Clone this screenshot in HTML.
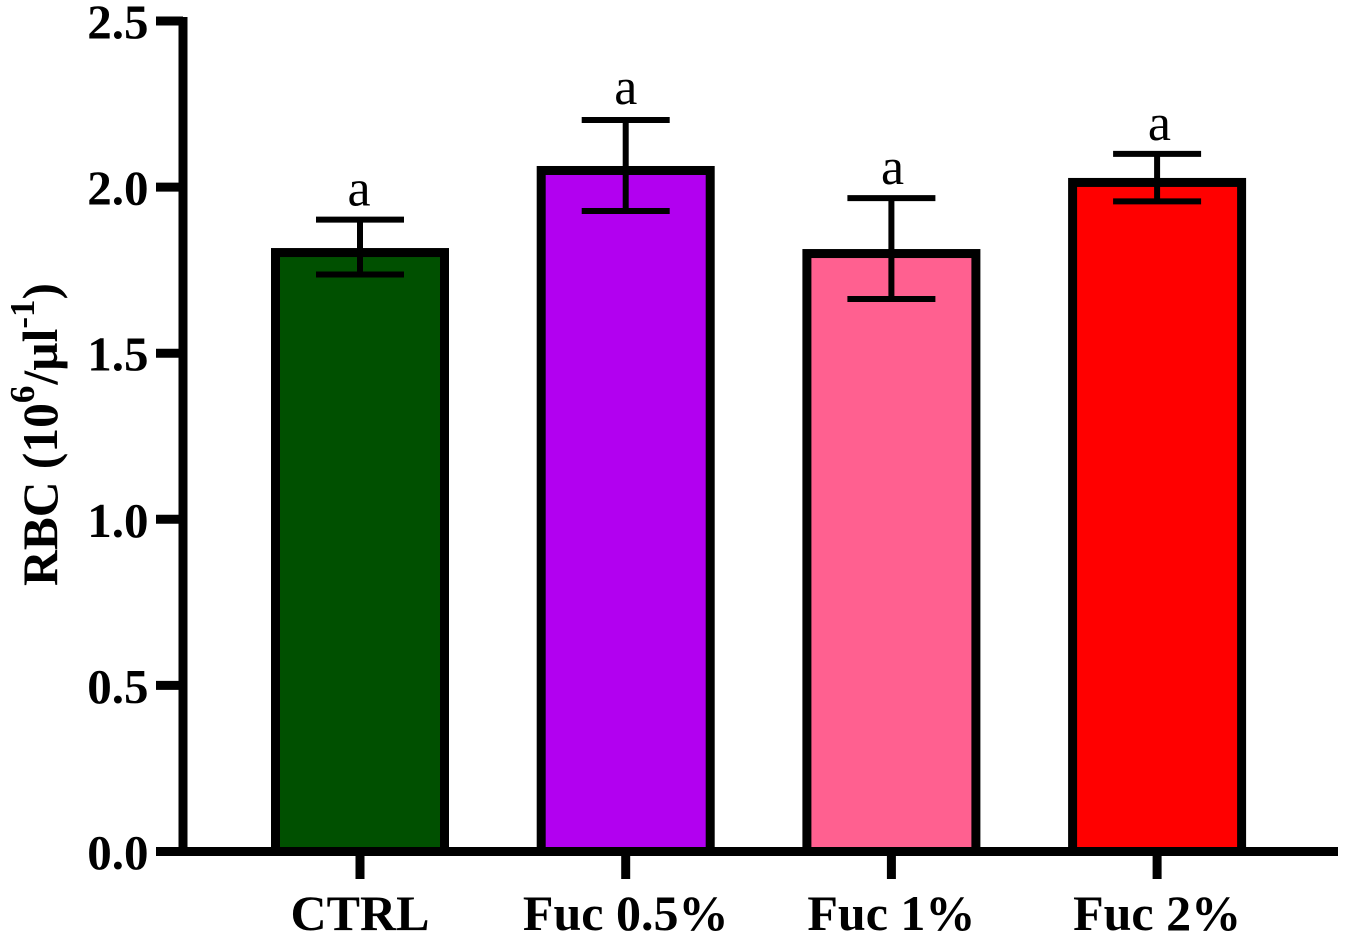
<!DOCTYPE html>
<html lang="en">
<head>
<meta charset="utf-8">
<title>RBC bar chart</title>
<style>
html,body{margin:0;padding:0;background:#fff;width:1348px;height:940px;overflow:hidden}
svg{display:block}
text{font-family:"Liberation Serif","Times New Roman",serif;fill:#000}
.b{font-weight:bold}
</style>
</head>
<body>
<svg id="chart" width="1348" height="940" viewBox="0 0 1348 940" xmlns="http://www.w3.org/2000/svg">
<rect width="1348" height="940" fill="#fff"/>
<g id="bars"></g>
<g id="errors"></g>
<g id="letters"></g>
<g id="axes"></g>
<text class="b" font-size="49.5" transform="translate(57 586) rotate(-90)">RBC (10<tspan font-size="35" dy="-23">6</tspan><tspan dx="1" dy="23">/µl</tspan><tspan font-size="35" dy="-23">-1</tspan><tspan dy="23">)</tspan></text>
</svg>
<script>
const categories = ["CTRL", "Fuc 0.5%", "Fuc 1%", "Fuc 2%"];
const means = [1.803, 2.05, 1.80, 2.014];
const errorUpper = [1.902, 2.202, 1.967, 2.10];
const errorLower = [1.737, 1.928, 1.663, 1.957];
const letters = ["a", "a", "a", "a"];
const barColors = ["#005000", "#b200f0", "#ff6090", "#ff0000"];
const yTicks = [0, 0.5, 1, 1.5, 2, 2.5];

const NS = "http://www.w3.org/2000/svg";
const yScale = v => 851.5 - v * 332.2;
const xScale = i => 360 + i * 265.7;

function make(tag, parent, attrs, txt) {
  const el = document.createElementNS(NS, tag);
  for (const k in attrs) el.setAttribute(k, attrs[k]);
  if (txt !== undefined) el.textContent = txt;
  parent.appendChild(el);
  return el;
}
const barsG = document.getElementById("bars");
const errG = document.getElementById("errors");
const letG = document.getElementById("letters");
const axG = document.getElementById("axes");

categories.forEach((c, i) => {
  const cx = xScale(i);
  const bar = make("rect", barsG, {x: cx - 84.5, y: yScale(means[i]), width: 169, height: yScale(0) - yScale(means[i]), fill: barColors[i], stroke: "#000", "stroke-width": 9});
  
  

  const stem = make("line", errG, {x1: cx, x2: cx, y1: yScale(errorUpper[i]), y2: yScale(errorLower[i]), stroke: "#000", "stroke-width": 6});
  
  
  const capU = make("line", errG, {x1: cx - 44, x2: cx + 44, y1: yScale(errorUpper[i]), y2: yScale(errorUpper[i]), stroke: "#000", "stroke-width": 6});
  
  
  const capL = make("line", errG, {x1: cx - 44, x2: cx + 44, y1: yScale(errorLower[i]), y2: yScale(errorLower[i]), stroke: "#000", "stroke-width": 6});
  
  

  const gap = i === 1 ? 16 : 14;
  const lt = make("text", letG, {x: cx - 1 + i * 1.1, y: yScale(errorUpper[i]) - gap, "text-anchor": "middle", "font-size": 52}, letters[i]);
  
  

  const tick = make("line", axG, {x1: cx, x2: cx, y1: 852, y2: 879, stroke: "#000", "stroke-width": 9});
  
  
  const lab = make("text", axG, {x: cx, y: 930, "text-anchor": "middle", class: "b", "font-size": 50}, c);
  
  
});

const yAxis = make("line", axG, {x1: 183, x2: 183, y1: 17, y2: 856, stroke: "#000", "stroke-width": 9});


const xAxis = make("line", axG, {x1: 156, x2: 1338, y1: yScale(0), y2: yScale(0), stroke: "#000", "stroke-width": 9});



yTicks.forEach(v => {
  const y = yScale(v);
  const t = make("line", axG, {x1: 156, x2: 183, y1: y, y2: y, stroke: "#000", "stroke-width": 9});
  
  
  const l = make("text", axG, {x: 148.5, y: y + 17.5, "text-anchor": "end", class: "b", "font-size": 49}, v.toFixed(1));
  
  
});
</script>
</body>
</html>
